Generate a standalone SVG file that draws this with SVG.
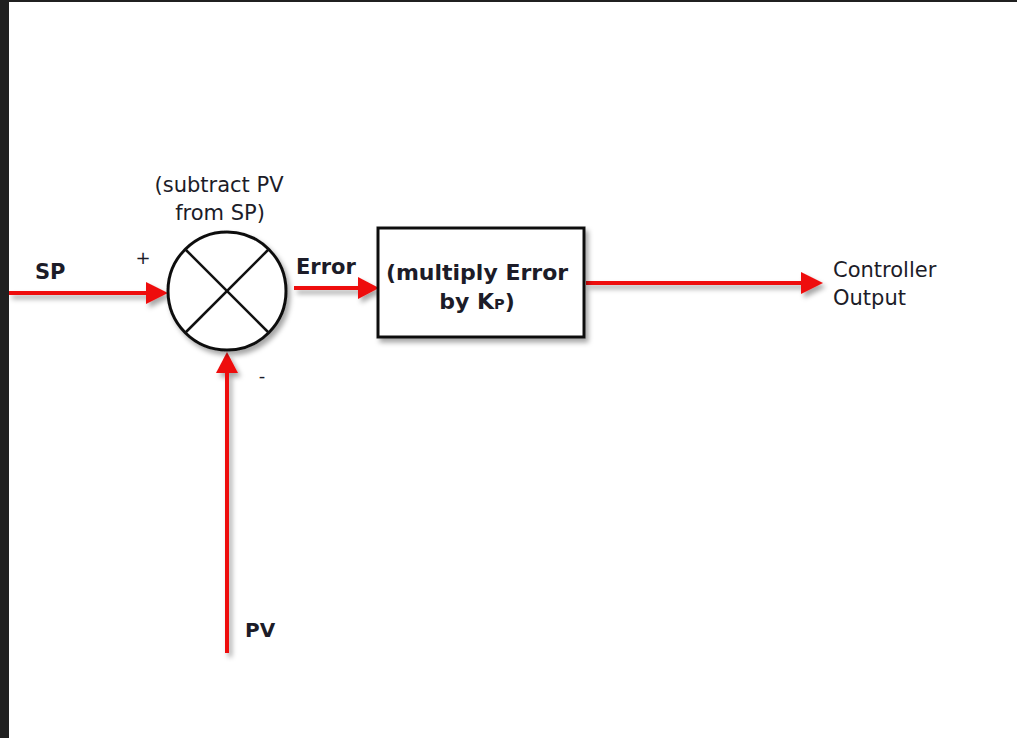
<svg xmlns="http://www.w3.org/2000/svg" width="1017" height="738" viewBox="0 0 1017 738">
  <style>
    .lbl { font-family: "DejaVu Sans", Tahoma, sans-serif; fill: #1c1c28; }
    .b { font-weight: bold; }
    .wire { stroke: #ee1111; stroke-width: 4; fill: none; }
    .head { fill: #ee1111; }
    .edge { stroke: #111; stroke-width: 3; fill: #fff; }
  </style>
  <defs>
    <filter id="shadow" x="-20%" y="-20%" width="150%" height="150%">
      <feDropShadow dx="3" dy="4" stdDeviation="2.5" flood-color="#000" flood-opacity="0.35"/>
    </filter>
  </defs>

  <!-- frame -->
  <rect x="0" y="0" width="1017" height="738" fill="#fff"/>
  <rect x="0" y="0" width="9" height="738" fill="#202020"/>
  <rect x="0" y="0" width="1017" height="2" fill="#202020"/>

  <!-- connectors -->
  <g id="connectors" filter="url(#shadow)">
    <line class="wire" x1="9" y1="293" x2="150" y2="293"/>
    <polygon class="head" points="146,282 168,293 146,304"/>
    <line class="wire" x1="294" y1="288" x2="362" y2="288"/>
    <polygon class="head" points="358,277 379,288 358,299"/>
    <line class="wire" x1="586" y1="283" x2="806" y2="283"/>
    <polygon class="head" points="801,272 823,283 801,294"/>
    <line class="wire" x1="227" y1="653" x2="227" y2="368"/>
    <polygon class="head" points="216,373 227,352 238,373"/>
  </g>

  <!-- summing junction -->
  <g id="sum">
    <circle class="edge" cx="227" cy="291" r="59" filter="url(#shadow)"/>
    <line x1="185" y1="249" x2="269" y2="333" stroke="#111" stroke-width="2.5"/>
    <line x1="269" y1="249" x2="185" y2="333" stroke="#111" stroke-width="2.5"/>
    <text class="lbl" x="219" y="192" font-size="21" text-anchor="middle">(subtract PV</text>
    <text class="lbl" x="220" y="220" font-size="21" text-anchor="middle">from SP)</text>
    <text class="lbl" x="143" y="264" font-size="18" text-anchor="middle">+</text>
    <text class="lbl" x="262" y="382" font-size="18" text-anchor="middle">-</text>
  </g>

  <!-- gain block -->
  <g id="gain">
    <rect class="edge" x="378" y="228" width="206" height="109" filter="url(#shadow)"/>
    <text class="lbl b" x="477" y="280" font-size="22" text-anchor="middle">(multiply Error</text>
    <text class="lbl b" x="477" y="309" font-size="22" text-anchor="middle">by K<tspan font-size="14.5">P</tspan>)</text>
  </g>

  <!-- signal labels -->
  <g id="sp"><text class="lbl b" x="35" y="279" font-size="21">SP</text></g>
  <g id="error"><text class="lbl b" x="296" y="274" font-size="21">Error</text></g>
  <g id="pv"><text class="lbl b" x="245" y="637" font-size="20">PV</text></g>
  <g id="output">
    <text class="lbl" x="833" y="277" font-size="21">Controller</text>
    <text class="lbl" x="833" y="305" font-size="21">Output</text>
  </g>
</svg>
